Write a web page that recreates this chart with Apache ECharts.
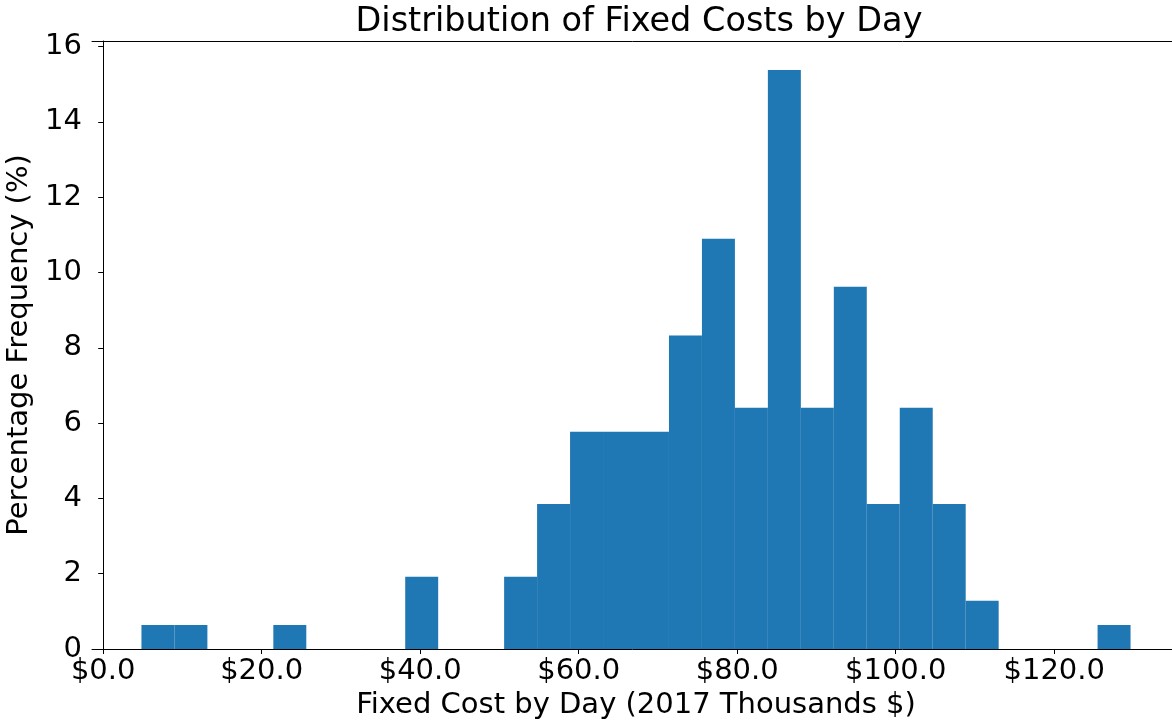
<!DOCTYPE html>
<html>
<head>
<meta charset="utf-8">
<title>Distribution of Fixed Costs by Day</title>
<script src="https://cdn.jsdelivr.net/npm/echarts@6/dist/echarts.min.js"></script>
<style>
	html, body { margin: 0; padding: 0; background: #fff; }
	#main { width: 1172px; height: 723px; }
</style>
</head>
<body>
<div id="main"></div>
<script>
	// 30 bin histogram, bins start at 4.83 (thousands $), each 4.16 wide
	var binStart = 4.83;
	var binWidth = 4.16;
	// percentage frequency per bin
	var percents = [0.64, 0.64, 0, 0, 0.64, 0, 0, 0, 1.92, 0,
		0, 1.92, 3.85, 5.77, 5.77, 5.77, 8.33, 10.90, 6.41, 15.38,
		6.41, 9.62, 3.85, 6.41, 3.85, 1.28, 0, 0, 0, 0.64];
	var xTicks = [0, 20, 40, 60, 80, 100, 120];
	var yTicks = [0, 2, 4, 6, 8, 10, 12, 14, 16];

	var font = 'DejaVu Sans';

	var bins = [];
	for (var i = 0; i < percents.length; i++) {
		var left = binStart + i * binWidth;
		bins.push([left, left + binWidth, percents[i]]);
	}

	function renderBar(params, api) {
		var p0 = api.coord([api.value(0), 0]);
		var p1 = api.coord([api.value(1), api.value(2)]);
		return {
			type: 'rect',
			shape: { x: p0[0], y: p1[1], width: p1[0] - p0[0], height: p0[1] - p1[1] },
			style: { fill: '#1f77b4' }
		};
	}

	var myChart = echarts.init(document.getElementById('main'));

	var option = {
		animation: false,
		backgroundColor: '#fff',
		title: {
			text: 'Distribution of Fixed Costs by Day',
			left: 634,
			textAlign: 'center',
			top: 0,
			textStyle: { fontFamily: font, fontSize: 33.5, fontWeight: 'normal', color: '#000' }
		},
		// plot area runs a little past the right edge, like the cropped original
		grid: { left: 92, top: 41, width: 1088, height: 608, outerBoundsMode: 'none', containLabel: false },
		xAxis: [{
			type: 'value',
			min: -1.41,
			max: 135.87,
			position: 'bottom',
			name: 'Fixed Cost by Day (2017 Thousands $)',
			nameLocation: 'middle',
			nameGap: 40,
			nameTextStyle: { fontFamily: font, fontSize: 29, color: '#000' },
			axisLine: { show: true, onZero: false, lineStyle: { color: '#000', width: 1 } },
			axisTick: { show: true, customValues: xTicks, length: 5, lineStyle: { color: '#000' } },
			axisLabel: {
				customValues: xTicks,
				margin: 8,
				fontFamily: font, fontSize: 29, color: '#000',
				formatter: function (v) { return '$' + v.toFixed(1); }
			},
			splitLine: { show: false }
		}, {
			// top spine
			type: 'value',
			min: -1.41,
			max: 135.87,
			position: 'top',
			axisLine: { show: true, onZero: false, lineStyle: { color: '#000', width: 1 } },
			axisTick: { show: false },
			axisLabel: { show: false },
			splitLine: { show: false }
		}],
		yAxis: {
			type: 'value',
			min: 0,
			max: 16.15,
			name: 'Percentage Frequency (%)',
			nameLocation: 'middle',
			nameGap: 47,
			nameTextStyle: { fontFamily: font, fontSize: 29, color: '#000' },
			axisLine: { show: true, lineStyle: { color: '#000', width: 1 } },
			axisTick: { show: true, customValues: yTicks, length: 5, lineStyle: { color: '#000' } },
			axisLabel: { customValues: yTicks, margin: 10, fontFamily: font, fontSize: 29, color: '#000' },
			splitLine: { show: false }
		},
		series: [{
			type: 'custom',
			xAxisIndex: 0,
			renderItem: renderBar,
			encode: { x: [0, 1], y: 2 },
			data: bins
		}]
	};

	myChart.setOption(option);
</script>
</body>
</html>
